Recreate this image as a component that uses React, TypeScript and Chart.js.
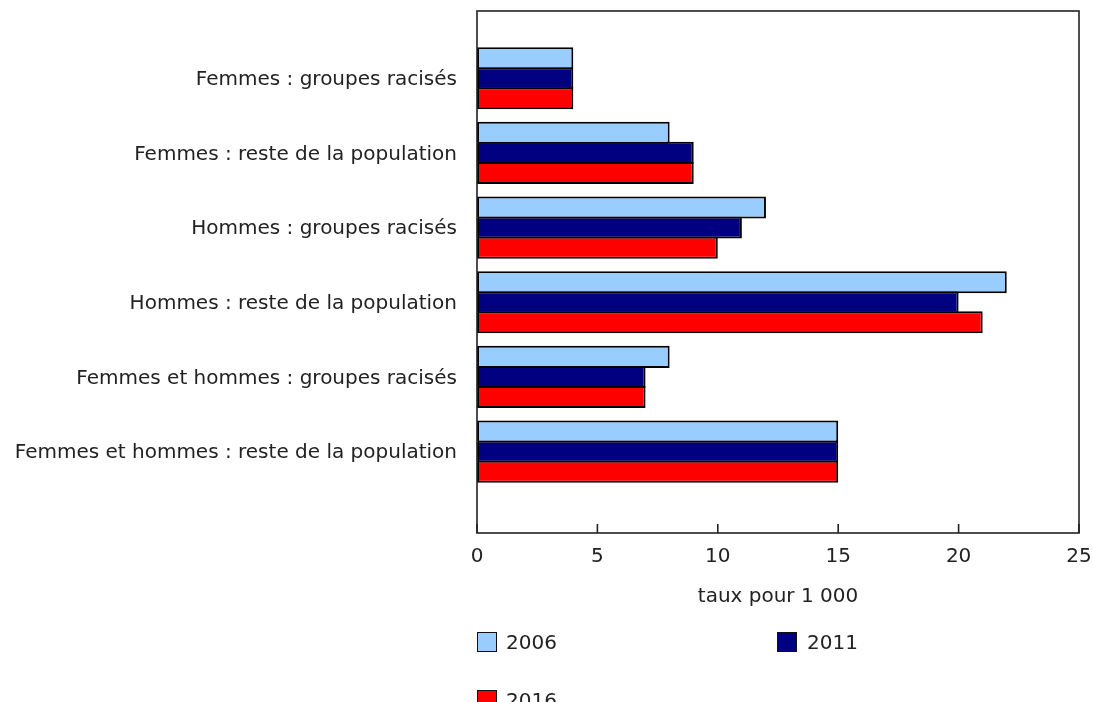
import React, { useEffect, useRef } from "react";
import { Chart, registerables } from "chart.js";

Chart.register(...registerables);

const categories = [
  "Femmes : groupes racisés",
  "Femmes : reste de la population",
  "Hommes : groupes racisés",
  "Hommes : reste de la population",
  "Femmes et hommes : groupes racisés",
  "Femmes et hommes : reste de la population",
];
const years = ["2006", "2011", "2016"];
const values2006 = [4, 8, 12, 22, 8, 15];
const values2011 = [4, 9, 11, 20, 7, 15];
const values2016 = [4, 9, 10, 21, 7, 15];
const seriesValues = [values2006, values2011, values2016];
const colors = ["#99CCFF", "#000080", "#FF0000"];
const xTicks = [0, 5, 10, 15, 20, 25];
const xTitle = "taux pour 1 000";

const FONT = '"DejaVu Sans", Verdana, sans-serif';
const FS = 20;
const TEXT = "#222222";

const framePlugin = {
  id: "frame",
  afterDatasetsDraw(chart: any) {
    const { ctx, chartArea, scales } = chart;
    const { left, right, top, bottom } = chartArea;
    ctx.save();
    ctx.strokeStyle = "#222";
    ctx.lineWidth = 1.6;
    ctx.strokeRect(left, top, right - left, bottom - top);
    for (const t of xTicks) {
      const px = scales.x.getPixelForValue(t);
      ctx.beginPath();
      ctx.moveTo(px, bottom);
      ctx.lineTo(px, bottom - 9);
      ctx.stroke();
    }
    ctx.restore();
  },
};

export default function App() {
  const ref = useRef<HTMLCanvasElement>(null);
  useEffect(() => {
    if (!ref.current) return;
    const chart = new Chart(ref.current, {
      type: "bar",
      data: {
        datasets: years.map((y, k) => ({
          label: y,
          data: seriesValues[k].map((v, i) => ({ x: v, y: i })),
          backgroundColor: colors[k],
          borderColor: "#000",
          borderWidth: 2,
          borderSkipped: false,
          categoryPercentage: 0.805,
          barPercentage: 1.1,
        })),
      },
      options: {
        indexAxis: "y",
        responsive: false,
        animation: false,
        layout: { padding: { top: 11, right: 14, left: 0, bottom: 0 } },
        plugins: { legend: { display: false }, tooltip: { enabled: false } },
        scales: {
          x: {
            type: "linear",
            position: "bottom",
            min: 0,
            max: 25,
            offset: false,
            grid: { display: false, drawTicks: false, offset: false },
            border: { display: false },
            afterBuildTicks(s: any) {
              s.ticks = xTicks.map((v) => ({ value: v }));
            },
            ticks: { font: { family: FONT, size: FS }, color: TEXT, padding: 12, maxRotation: 0 },
            title: {
              display: true,
              text: xTitle,
              font: { family: FONT, size: FS },
              color: TEXT,
              padding: { top: 0, bottom: 93 },
            },
            afterFit(s: any) {
              s.height = 169;
              s.paddingLeft = 0;
              s.paddingRight = 0;
            },
          },
          y: {
            type: "linear",
            reverse: true,
            min: -0.9,
            max: 6.09,
            offset: false,
            grid: { display: false, drawTicks: false, offset: false },
            border: { display: false },
            afterBuildTicks(s: any) {
              s.ticks = categories.map((_, i) => ({ value: i }));
            },
            ticks: {
              autoSkip: false,
              padding: 20,
              labelOffset: 1.5,
              font: { family: FONT, size: FS },
              color: TEXT,
              callback: (v: any) => categories[v as number] ?? "",
            },
            afterFit(s: any) {
              s.width = 477;
              s.paddingTop = 0;
              s.paddingBottom = 0;
            },
          },
        },
      } as any,
      plugins: [framePlugin],
    });
    return () => chart.destroy();
  }, []);

  const sq = (left: number, top: number, color: string) => (
    <div
      style={{
        position: "absolute",
        left,
        top,
        width: 18,
        height: 18,
        background: color,
        border: "1.6px solid #111",
      }}
    />
  );
  const lbl = (left: number, top: number, text: string) => (
    <div
      style={{
        position: "absolute",
        left,
        top,
        fontFamily: FONT,
        fontSize: FS,
        color: TEXT,
        lineHeight: "22px",
        whiteSpace: "nowrap",
      }}
    >
      {text}
    </div>
  );

  return (
    <div
      style={{
        position: "fixed",
        left: 0,
        top: 0,
        width: 1093,
        height: 702,
        overflow: "hidden",
        background: "#fff",
      }}
    >
      <canvas ref={ref} width={1093} height={702} style={{ position: "absolute", left: 0, top: 0 }} />
      {sq(477, 632, colors[0])}
      {lbl(506, 631, years[0])}
      {sq(777, 632, colors[1])}
      {lbl(807, 631, years[1])}
      {sq(477, 690, colors[2])}
      {lbl(506, 689, years[2])}
    </div>
  );
}
